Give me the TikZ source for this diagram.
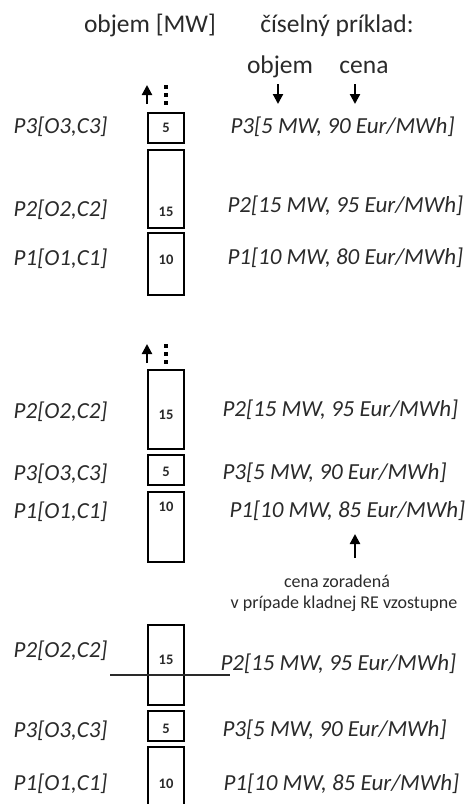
\documentclass[tikz,border=0pt]{standalone}
\usepackage{fontspec}
\setmainfont{Carlito}
\usetikzlibrary{arrows.meta}
\definecolor{txt}{HTML}{2A2A2A}
\begin{document}
\begin{tikzpicture}[x=1pt,y=-1pt,
  blok/.style={draw,line width=2.2pt,minimum width=36pt,inner sep=0pt},
  cislo/.style={font=\fontsize{14.5}{15}\selectfont\bfseries,text=txt},
  vlavo/.style={anchor=east,font=\fontsize{23}{25}\selectfont\itshape,text=txt},
  vpravo/.style={anchor=west,font=\fontsize{23}{25}\selectfont\itshape,text=txt},
  hlava/.style={anchor=base,font=\fontsize{25.5}{27}\selectfont,text=txt},
  pozn/.style={font=\fontsize{18}{20}\selectfont,text=txt},
  sipka/.style={-{Triangle[length=10pt,width=10pt]},line width=2.2pt},
  bodka/.style={fill,inner sep=0pt,minimum size=4.4pt}]
  \useasboundingbox (0,0) rectangle (471,804);
  \clip (0,0) rectangle (471,804);
  % hlavicka
  \node[hlava] (hobjem) at (150,32) {objem [MW]};
  \node[hlava] (hpriklad) at (337,32) {číselný príklad:};
  \node[hlava] (ob) at (280,73) {objem};
  \node[hlava] (ce) at (364,73) {cena};
  \coordinate (obz) at (278,84);  \coordinate (obk) at (278,104);
  \coordinate (cez) at (355,84);  \coordinate (cek) at (355,104);
  \draw[sipka] (obz) -- (obk);
  \draw[sipka] (cez) -- (cek);
  % sipky hore a bodky
  \foreach \g/\y in {a/85, b/344} {
    \coordinate (up\g z) at (147,\y+19);
    \coordinate (up\g k) at (147,\y);
    \draw[sipka] (up\g z) -- (up\g k);
    \foreach \d in {0,8,16}
      \node[bodka] at (166,\y+2+\d) {};
  }
  % prva skupina
  \node[blok,minimum height=30pt] (b5a) at (166,128) {};
  \node[blok,minimum height=78pt] (b15a) at (166,189) {};
  \node[blok,minimum height=62pt] (b10a) at (166,264) {};
  \node[cislo] at (166,128) {5};
  \node[cislo] at (166,212) {15};
  \node[cislo] at (166,260) {10};
  \node[vlavo] (l3a) at (111,127) {P3[O3,C3]};
  \node[vlavo] (l2a) at (111,210) {P2[O2,C2]};
  \node[vlavo] (l1a) at (111,259) {P1[O1,C1]};
  \node[vpravo] (r3a) at (227,127) {P3[5 MW, 90 Eur/MWh]};
  \node[vpravo] (r2a) at (224,206) {P2[15 MW, 95 Eur/MWh]};
  \node[vpravo] (r1a) at (224,258) {P1[10 MW, 80 Eur/MWh]};
  % druha skupina
  \node[blok,minimum height=79pt] (b15b) at (166,409.5) {};
  \node[blok,minimum height=30pt] (b5b) at (166,470) {};
  \node[blok,minimum height=70pt] (b10b) at (166,527) {};
  \node[cislo] at (166,415) {15};
  \node[cislo] at (166,472) {5};
  \node[cislo] at (166,507) {10};
  \node[vlavo] (l2b) at (111,412) {P2[O2,C2]};
  \node[vlavo] (l3b) at (111,474) {P3[O3,C3]};
  \node[vlavo] (l1b) at (111,512) {P1[O1,C1]};
  \node[vpravo] (r2b) at (219,410) {P2[15 MW, 95 Eur/MWh]};
  \node[vpravo] (r3b) at (219,473) {P3[5 MW, 90 Eur/MWh]};
  \node[vpravo] (r1b) at (226,511) {P1[10 MW, 85 Eur/MWh]};
  \coordinate (zorz) at (355,558);
  \coordinate (zork) at (355,534);
  \draw[sipka] (zorz) -- (zork);
  \node[pozn] (zor) at (337,581) {cena zoradená};
  \node[pozn] (vzost) at (344,604) {v prípade kladnej RE vzostupne};
  % tretia skupina
  \node[blok,minimum height=80pt] (b15c) at (166,665) {};
  \node[blok,minimum height=30pt] (b5c) at (166,726) {};
  \node[blok,minimum height=65pt] (b10c) at (166,779.5) {};
  \node[cislo] at (166,660) {15};
  \node[cislo] at (166,729) {5};
  \node[cislo] at (166,784) {10};
  \node[vlavo] (l2c) at (111,651) {P2[O2,C2]};
  \node[vlavo] (l3c) at (111,731) {P3[O3,C3]};
  \node[vlavo] (l1c) at (111,784) {P1[O1,C1]};
  \node[vpravo] (r2c) at (217,664) {P2[15 MW, 95 Eur/MWh]};
  \node[vpravo] (r3c) at (219,730) {P3[5 MW, 90 Eur/MWh]};
  \node[vpravo] (r1c) at (220,784) {P1[10 MW, 85 Eur/MWh]};
  \coordinate (ciaraz) at (110,675);
  \coordinate (ciarak) at (230,675);
  \draw[line width=1.1pt,txt] (ciaraz) -- (ciarak);
\end{tikzpicture}
\end{document}
